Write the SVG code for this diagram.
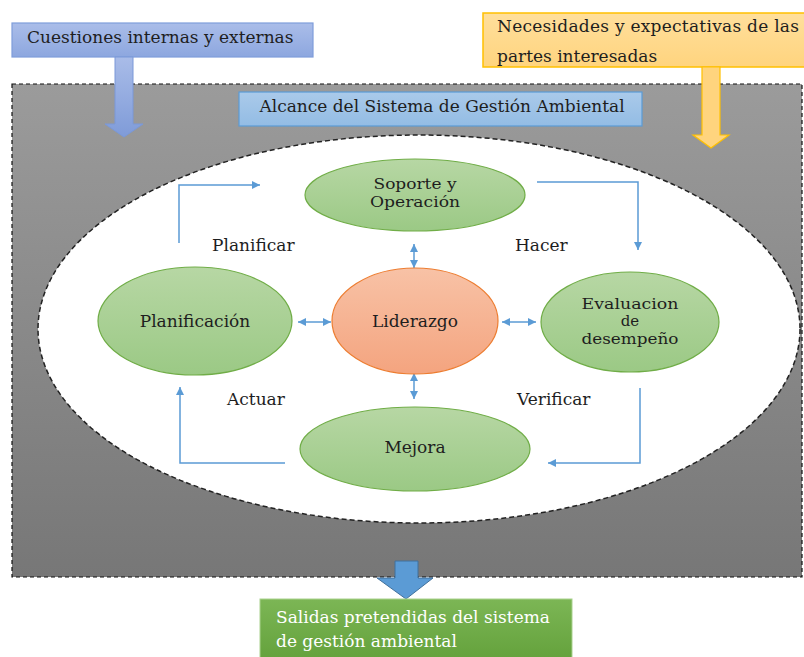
<svg xmlns="http://www.w3.org/2000/svg" width="804" height="657" viewBox="0 0 804 657">
<defs>
<linearGradient id="gGray" x1="0" y1="0" x2="0" y2="1"><stop offset="0" stop-color="#9b9b9b"/><stop offset="1" stop-color="#777777"/></linearGradient>
<linearGradient id="gBlue" x1="0" y1="0" x2="0" y2="1"><stop offset="0" stop-color="#aabde9"/><stop offset="1" stop-color="#8da7df"/></linearGradient>
<linearGradient id="gBlueArr" x1="0" y1="0" x2="0" y2="1"><stop offset="0" stop-color="#a9bce8"/><stop offset="1" stop-color="#7f9bd8"/></linearGradient>
<linearGradient id="gYel" x1="0" y1="0" x2="0" y2="1"><stop offset="0" stop-color="#ffdf9c"/><stop offset="1" stop-color="#ffd47e"/></linearGradient>
<linearGradient id="gSky" x1="0" y1="0" x2="0" y2="1"><stop offset="0" stop-color="#aacaea"/><stop offset="1" stop-color="#93bce4"/></linearGradient>
<linearGradient id="gGreen" x1="0" y1="0" x2="0" y2="1"><stop offset="0" stop-color="#b7d7a4"/><stop offset="1" stop-color="#9bc985"/></linearGradient>
<linearGradient id="gOrange" x1="0" y1="0" x2="0" y2="1"><stop offset="0" stop-color="#f8c2a6"/><stop offset="1" stop-color="#f4a47f"/></linearGradient>
<linearGradient id="gOut" x1="0" y1="0" x2="0" y2="1"><stop offset="0" stop-color="#7cb655"/><stop offset="1" stop-color="#62a03a"/></linearGradient>
<marker id="ah" viewBox="0 0 10 10" refX="10" refY="5" markerWidth="9" markerHeight="8" markerUnits="userSpaceOnUse" orient="auto-start-reverse"><path d="M0,0 L10,5 L0,10 Z" fill="#5b9bd5"/></marker>
<style>
text{font-family:"DejaVu Serif","Liberation Serif",serif;font-size:17px;fill:#1e1e1e}
.c{text-anchor:middle}
.s{font-size:15px}
.w{fill:#ffffff}
.conn{fill:none;stroke:#5b9bd5;stroke-width:1.5}
.green{fill:url(#gGreen);stroke:#70ad47;stroke-width:1.2}
</style>
</defs>

<g id="scope-area">
<rect x="12" y="84" width="790" height="493" fill="url(#gGray)" stroke="#111" stroke-width="1.2" stroke-dasharray="4,3"/>
<ellipse cx="419" cy="329" rx="381" ry="194" fill="#ffffff" stroke="#222" stroke-width="1.5" stroke-dasharray="5,3"/>
</g>

<g id="cuestiones">
<rect x="12" y="23" width="301" height="34" fill="url(#gBlue)" stroke="#7f9ddb" stroke-width="1.2"/>
<text x="27" y="43">Cuestiones internas y externas</text>
<path d="M115,57 H133 V124 H143 L124,137 L105,124 H115 Z" fill="url(#gBlueArr)" stroke="#7a98d8" stroke-width="1"/>
</g>

<g id="necesidades">
<rect x="483" y="13" width="330" height="54" fill="url(#gYel)" stroke="#ffc000" stroke-width="1.5"/>
<text x="497" y="32" textLength="302" lengthAdjust="spacing">Necesidades y expectativas de las</text>
<text x="497" y="62">partes interesadas</text>
<path d="M702,67 H720 V135 H729 L711,148 L693,135 H702 Z" fill="#ffd47e" stroke="#ffc000" stroke-width="1.2"/>
</g>

<g id="alcance">
<rect x="239" y="92" width="403" height="34" fill="url(#gSky)" stroke="#5b9bd5" stroke-width="1.2"/>
<text class="c" x="442" y="112">Alcance del Sistema de Gestión Ambiental</text>
</g>

<g id="connectors">
<path class="conn" d="M179,243 V185 H260" marker-end="url(#ah)"/>
<path class="conn" d="M537,182 H638 V250" marker-end="url(#ah)"/>
<path class="conn" d="M640,388 V463 H548" marker-end="url(#ah)"/>
<path class="conn" d="M285,463 H180 V387" marker-end="url(#ah)"/>
<path class="conn" d="M414,244 V268" marker-start="url(#ah)" marker-end="url(#ah)"/>
<path class="conn" d="M414,373 V399" marker-start="url(#ah)" marker-end="url(#ah)"/>
<path class="conn" d="M298,322 H331" marker-start="url(#ah)" marker-end="url(#ah)"/>
<path class="conn" d="M502,322 H536" marker-start="url(#ah)" marker-end="url(#ah)"/>
</g>

<g id="labels">
<text x="212" y="251">Planificar</text>
<text x="515" y="251">Hacer</text>
<text x="227" y="405">Actuar</text>
<text x="517" y="405">Verificar</text>
</g>

<g id="soporte">
<ellipse class="green" cx="415" cy="195" rx="110" ry="36"/>
<text class="c s" x="415" y="189" textLength="83" lengthAdjust="spacingAndGlyphs">Soporte y</text>
<text class="c s" x="415" y="207" textLength="90" lengthAdjust="spacingAndGlyphs">Operación</text>
</g>

<g id="planificacion">
<ellipse class="green" cx="195" cy="321" rx="97" ry="54"/>
<text class="c" x="195" y="327">Planificación</text>
</g>

<g id="liderazgo">
<ellipse cx="415" cy="321" rx="83" ry="53" fill="url(#gOrange)" stroke="#ed7d31" stroke-width="1.2"/>
<text class="c" x="415" y="327">Liderazgo</text>
</g>

<g id="evaluacion">
<ellipse class="green" cx="630" cy="322" rx="89" ry="50"/>
<text class="c s" x="630" y="309" textLength="97" lengthAdjust="spacingAndGlyphs">Evaluacion</text>
<text class="c s" x="630" y="326">de</text>
<text class="c s" x="630" y="344" textLength="97" lengthAdjust="spacingAndGlyphs">desempeño</text>
</g>

<g id="mejora">
<ellipse class="green" cx="415" cy="449" rx="115" ry="42"/>
<text class="c" x="415" y="453">Mejora</text>
</g>

<g id="salidas">
<path d="M395,561 H418 V578 H433 L406,599 L377,578 H395 Z" fill="#5b9bd5" stroke="#41719c" stroke-width="1"/>
<rect x="260" y="599" width="312" height="66" fill="url(#gOut)" stroke="#a9d18e" stroke-width="1"/>
<text class="w" x="276" y="623">Salidas pretendidas del sistema</text>
<text class="w" x="276" y="647">de gestión ambiental</text>
</g>
</svg>
